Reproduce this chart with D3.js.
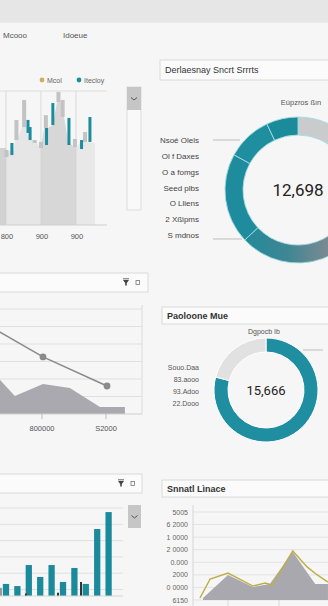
<!DOCTYPE html>
<html><head><meta charset="utf-8">
<script src="https://cdn.jsdelivr.net/npm/d3@7"></script>
<style>
html,body{margin:0;padding:0;background:#f6f6f6;}
svg{display:block;font-family:"Liberation Sans",Arial,sans-serif;}
</style>
</head><body>
<svg id="c" width="328" height="606"></svg>
<script>
// ---------- data ----------
const headerLabels = ["Mcooo", "Idoeue"];
const legendSeries = ["Mcol", "Itecloy"];
const candleTicks = [0, 10, 20];
const candleTickLabels = ["800", "900", "900"];
const fillPeriods = [-1.7,0,0,2.3,2.6,3.4,4.6,5.7,6.0,7.4,8.9,9.4,10.0,10.9,12.0,13.4,14.6,15.7,16.6,17.7,19.2,20.3,21.2,23.2,25.4];
const fillValues  = [57.5,57.5,54.5,56,63.4,65,73,73,68.7,63.4,61.2,58.2,58.2,72.4,72.4,74.6,91.8,91.8,80.6,63.4,58.2,58.2,62,62,61.2];
const fillBands = [-1.7, 0, 10, 20, 25.4];
const grayPeriods = [0.15,3.0,5.2,8.2,10.0,11.4,15.0,16.2,19.7,22.6];
const grayLow     = [50.7,63.4,73,61.2,57.5,72.4,91.8,80.6,58.2,62];
const grayHigh    = [56,78.4,93.3,63.4,62,82,99.3,93.3,64.2,69.4];
const tealPeriods = [1.7,6.3,6.9,11.6,13.4,18.0,21.6,24.0];
const tealLow     = [52.2,68.7,63.4,59.7,74.6,59.7,56.7,62];
const tealHigh    = [61.2,78.4,73.1,72.4,91,79.9,63.4,80.6];

const donut1Title = "Derlaesnay Sncrt Srrrts";
const donut1Caption = "Eúpzros ßın";
const donut1Total = "12,698";
const donut1Values = [26, 37, 20, 10, 7];
const donut1Labels = ["Nsoé Olels","Ol f Daxes","O a fomgs","Seed plbs","O Lliens","2 Xßipms","S mdnos"];

const trendTicks = [1, 2];
const trendTickLabels = ["800000", "S2000"];
const trendLineX = [0, 1, 2];
const trendLineY = [5.38, 3.26, 1.6];
const trendAreaX = [0, 0.33, 0.56, 1.0, 1.42, 1.89, 2.28];
const trendAreaY = [3.2, 1.94, 1.03, 1.71, 1.49, 0.4, 0.4];

const donut2Title = "Paoloone Mue";
const donut2Caption = "Dgpocb Ib";
const donut2Total = "15,666";
const donut2Values = [79, 21];
const donut2Labels = ["Souo.Daa","83.aooo","93.Adoo","22.Dooo"];

const barValues = [0.74,0.61,1.9,1.17,1.9,0.86,1.72,0.74,4.11,5.15];
const barGrid = [0.4,1.4,2.4,3.4,4.4,5.4];
const minorSlots = [-0.44, 1.75, 4.56, 6.58];
const minorValues = [0.5, 0.15, 0.2, 0.86];

const lineTitle = "Snnatl Lìnace";
const lineTickLabels = ["6150","0 0000","2000","0.000","2 0000","1 0000","6 2000","5005"];
const lineX = [0.45,0.65,1.0,1.49,1.73,1.86,2.27,2.55,2.75,2.96];
const lineY = [0.16,1.67,2.15,1.11,1.35,1.19,3.9,2.63,1.99,1.43];
const lineAreaX = [0.51,1.0,1.49,1.82,2.27,2.71,2.96];
const lineAreaY = [0.16,1.99,1.03,1.27,3.82,1.27,1.27];

// ---------- drawing ----------
const svg = d3.select("#c");
const defs = svg.append("defs");
const TEAL = "#1d8c9d";

svg.append("rect").attr("width",328).attr("height",606).attr("fill","#f6f6f6");
svg.append("rect").attr("width",328).attr("height",22).attr("fill","#e6e6e6");
svg.append("rect").attr("y",22).attr("width",328).attr("height",1).attr("fill","#ececec");

svg.selectAll("text.hdr").data(headerLabels).join("text")
  .attr("x",(d,i)=> i===0 ? 3 : 63).attr("y",38)
  .attr("font-size",8).attr("fill","#555").text(d=>d);

function titleBox(x,y,w,h,label,bold){
  svg.append("rect").attr("x",x).attr("y",y).attr("width",w).attr("height",h)
    .attr("fill","#fbfbfb").attr("stroke","#dadada").attr("stroke-width",1);
  if(label) svg.append("text").attr("x",x+5).attr("y",y+h/2+3.3)
    .attr("font-size",9).attr("font-weight",bold?"bold":"normal").attr("fill","#333").text(label);
}
function chevronBox(x,y,w,h){
  svg.append("rect").attr("x",x).attr("y",y).attr("width",w).attr("height",h).attr("fill","#c6c6c6");
  const cx=x+w/2, cy=y+h/2;
  svg.append("path").attr("d",`M${cx-3},${cy-1} L${cx},${cy+1.5} L${cx+3},${cy-1}`)
    .attr("fill","none").attr("stroke","#555").attr("stroke-width",1);
}
function icons(x,y){
  svg.append("path").attr("d",`M${x-3},${y-3} L${x+3},${y-3} L${x+0.8},${y} L${x+0.8},${y+2.5} L${x-0.8},${y+2.5} L${x-0.8},${y} Z`).attr("fill","#444");
  svg.append("path").attr("d",`M${x-3},${y-4.2} L${x+3},${y-4.2}`).attr("stroke","#444").attr("stroke-width",0.8);
  svg.append("rect").attr("x",x+10).attr("y",y-2.5).attr("width",3.5).attr("height",4).attr("fill","none").attr("stroke","#777").attr("stroke-width",0.8);
}

// ---- top-left candle chart ----
const xTL = d3.scaleLinear().domain([-1.7, 28.3]).range([0,105]);
const yTL = d3.scaleLinear().domain([0,100]).range([225,91]);

const legX = [42, 79];
const legCol = ["#c8b35a", TEAL];
legendSeries.forEach((s,i)=>{
  svg.append("circle").attr("cx",legX[i]).attr("cy",80).attr("r",2.4).attr("fill",legCol[i]);
  svg.append("text").attr("x",legX[i]+5).attr("y",82.5).attr("font-size",7).attr("fill","#666").text(s);
});

const bandGrad = defs.append("linearGradient").attr("id","bands")
  .attr("gradientUnits","userSpaceOnUse").attr("x1",0).attr("x2",328).attr("y1",0).attr("y2",0);
const bandCols = ["#d2d2d2","#e6e6e6","#d7d7d7","#e8e8e8"];
for(let k=0;k<fillBands.length-1;k++){
  bandGrad.append("stop").attr("offset",Math.max(0,xTL(fillBands[k]))/328).attr("stop-color",bandCols[k]);
  bandGrad.append("stop").attr("offset",xTL(fillBands[k+1])/328).attr("stop-color",bandCols[k]);
}
const fillArea = d3.area().x(i=>xTL(fillPeriods[i])).y0(yTL(0)).y1(i=>yTL(fillValues[i]));
svg.append("path").attr("d",fillArea(d3.range(fillPeriods.length))).attr("fill","url(#bands)");

svg.append("line").attr("x1",0).attr("x2",107).attr("y1",yTL(100)).attr("y2",yTL(100)).attr("stroke","#dedede");
svg.selectAll("line.vg").data(candleTicks).join("line")
  .attr("x1",d=>xTL(d)).attr("x2",d=>xTL(d)).attr("y1",yTL(100)).attr("y2",yTL(0))
  .attr("stroke","#cfcfcf").attr("stroke-width",0.7);

svg.selectAll("rect.gc").data(d3.range(grayPeriods.length)).join("rect")
  .attr("x",i=>xTL(grayPeriods[i])-2).attr("width",4)
  .attr("y",i=>yTL(grayHigh[i])).attr("height",i=>yTL(grayLow[i])-yTL(grayHigh[i]))
  .attr("fill","#c3c3c3");
svg.selectAll("rect.tc").data(d3.range(tealPeriods.length)).join("rect")
  .attr("x",i=>xTL(tealPeriods[i])-1.5).attr("width",3)
  .attr("y",i=>yTL(tealHigh[i])).attr("height",i=>yTL(tealLow[i])-yTL(tealHigh[i]))
  .attr("fill",TEAL);

svg.append("line").attr("x1",0).attr("x2",107).attr("y1",yTL(0)).attr("y2",yTL(0)).attr("stroke","#cfcfcf");
svg.selectAll("text.tl").data(candleTicks).join("text")
  .attr("x",d=>xTL(d)+1).attr("y",239).attr("text-anchor","middle")
  .attr("font-size",7.5).attr("fill","#555").text((d,i)=>candleTickLabels[i]);

// scroll box
svg.append("rect").attr("x",127).attr("y",87).attr("width",14).attr("height",123)
  .attr("fill","#f9f9f9").attr("stroke","#dcdcdc");
chevronBox(127,87,14,23);

// ---- top-right donut ----
titleBox(160,60,172,20,donut1Title,false);
const c1 = {x:298, y:190};
const g1 = svg.append("g").attr("transform",`translate(${c1.x},${c1.y})`);
const d1grad = defs.append("linearGradient").attr("id","d1grad")
  .attr("gradientUnits","userSpaceOnUse").attr("x1",-60).attr("x2",30).attr("y1",0).attr("y2",0);
d1grad.append("stop").attr("offset",0).attr("stop-color","#1e8a9a");
d1grad.append("stop").attr("offset",0.55).attr("stop-color","#3f8694");
d1grad.append("stop").attr("offset",1).attr("stop-color","#7c8a91");
const d1cols = ["#c9cbcc","url(#d1grad)","#1e8c9c","#1f8fa0","#1b8a9a"];
const pie = d3.pie().sort(null).value(d=>d);
const arc1 = d3.arc().innerRadius(55).outerRadius(73);
g1.selectAll("path").data(pie(donut1Values)).join("path")
  .attr("d",arc1).attr("fill",(d,i)=>d1cols[i]).attr("stroke","#a3dbe1").attr("stroke-width",0.9);
g1.append("text").attr("y",6).attr("text-anchor","middle").attr("font-family","Roboto, Arial, sans-serif")
  .attr("font-size",17).attr("fill","#222").text(donut1Total);
svg.append("text").attr("x",301).attr("y",105).attr("text-anchor","middle").attr("font-size",7.5).attr("fill","#555").text(donut1Caption);
const lab1Y = d3.scaleLinear().domain([0,6]).range([140,235]);
svg.selectAll("text.l1").data(donut1Labels).join("text")
  .attr("x",199).attr("y",(d,i)=>lab1Y(i)+3).attr("text-anchor","end")
  .attr("font-size",8).attr("fill","#444").text(d=>d);
svg.append("line").attr("x1",213).attr("x2",240).attr("y1",140).attr("y2",140).attr("stroke","#bdbdbd");
svg.append("line").attr("x1",213).attr("x2",242).attr("y1",239).attr("y2",239).attr("stroke","#bdbdbd");

// ---- middle-left trend ----
titleBox(-2,273,150,19,null);
icons(126,283);
const xML = d3.scaleLinear().domain([0,2]).range([-21,107]);
const yML = d3.scaleLinear().domain([0,6]).range([414,309]);
svg.selectAll("line.mg").data(d3.range(1,7)).join("line")
  .attr("x1",0).attr("x2",142).attr("y1",d=>yML(d)).attr("y2",d=>yML(d)).attr("stroke","#e0e0e0");
svg.append("line").attr("x1",142).attr("x2",142).attr("y1",305).attr("y2",414).attr("stroke","#dcdcdc");
const mlArea = d3.area().x(i=>xML(trendAreaX[i])).y0(yML(0)).y1(i=>yML(trendAreaY[i]));
svg.append("path").attr("d",mlArea(d3.range(trendAreaX.length))).attr("fill","#a9a9af");
svg.append("line").attr("x1",0).attr("x2",142).attr("y1",yML(0)).attr("y2",yML(0)).attr("stroke","#cfcfcf");
const mlLine = d3.line().x(i=>xML(trendLineX[i])).y(i=>yML(trendLineY[i]));
svg.append("path").attr("d",mlLine(d3.range(trendLineX.length))).attr("fill","none").attr("stroke","#8a8a8a").attr("stroke-width",1.5);
svg.selectAll("circle.mp").data([1,2]).join("circle")
  .attr("cx",i=>xML(trendLineX[i])).attr("cy",i=>yML(trendLineY[i])).attr("r",3.4).attr("fill","#8a8a8a");
svg.selectAll("line.mt").data(trendTicks).join("line")
  .attr("x1",d=>xML(d)-1).attr("x2",d=>xML(d)-1).attr("y1",414).attr("y2",419).attr("stroke","#bbb");
svg.selectAll("text.mtl").data(trendTicks).join("text")
  .attr("x",d=>xML(d)-1).attr("y",431).attr("text-anchor","middle")
  .attr("font-size",7.5).attr("fill","#555").text((d,i)=>trendTickLabels[i]);

// ---- middle-right donut ----
titleBox(162,307,170,17,donut2Title,true);
const g2 = svg.append("g").attr("transform","translate(266,390)");
const arc2 = d3.arc().innerRadius(38).outerRadius(52);
g2.selectAll("path").data(pie(donut2Values)).join("path")
  .attr("d",arc2).attr("fill",(d,i)=>i===0?"#1f8ea0":"#e1e1e1").attr("stroke","#fff").attr("stroke-width",1);
g2.append("text").attr("y",5).attr("text-anchor","middle").attr("font-family","Roboto, Arial, sans-serif")
  .attr("font-size",13).attr("fill","#222").text(donut2Total);
svg.append("text").attr("x",264).attr("y",334).attr("text-anchor","middle").attr("font-size",7).attr("fill","#555").text(donut2Caption);
const lab2Y = d3.scaleLinear().domain([0,3]).range([367,403]);
svg.selectAll("text.l2").data(donut2Labels).join("text")
  .attr("x",199).attr("y",(d,i)=>lab2Y(i)+2.5).attr("text-anchor","end")
  .attr("font-size",7).attr("fill","#555").text(d=>d);
svg.append("line").attr("x1",303).attr("x2",323).attr("y1",350).attr("y2",350).attr("stroke","#bdbdbd");

// ---- bottom-left bars ----
titleBox(-2,474,144,19,null);
icons(121,484);
const xBL = d3.scaleBand().domain(d3.range(barValues.length)).range([0.3,114.3]).paddingInner(0.45).paddingOuter(0.225);
const yBL = d3.scaleLinear().domain([0,5.4]).range([596,508]);
svg.selectAll("line.bg").data(barGrid).join("line")
  .attr("x1",0).attr("x2",123).attr("y1",d=>yBL(d)).attr("y2",d=>yBL(d)).attr("stroke","#e0e0e0");
svg.selectAll("rect.bar").data(barValues).join("rect")
  .attr("x",(d,i)=>xBL(i)).attr("width",xBL.bandwidth())
  .attr("y",d=>yBL(d)).attr("height",d=>yBL(0)-yBL(d)).attr("fill","#1b8b9c");
const slotX = s => xBL(0)+xBL.bandwidth()/2 + s*xBL.step();
svg.selectAll("rect.minor").data(minorValues).join("rect")
  .attr("x",(d,i)=>slotX(minorSlots[i])-1).attr("width",2)
  .attr("y",d=>yBL(d)).attr("height",d=>yBL(0)-yBL(d)).attr("fill",(d,i)=>i===0?"#9a9a9a":"#333");
svg.append("line").attr("x1",0).attr("x2",123).attr("y1",yBL(0)).attr("y2",yBL(0)).attr("stroke","#d5d5d5");
chevronBox(128,505,13,23);

// ---- bottom-right line/area ----
titleBox(162,480,170,17,lineTitle,true);
const xBR = d3.scaleLinear().domain([0,3]).range([177,330]);
const yBR = d3.scaleLinear().domain([0,7]).range([600,512]);
svg.selectAll("line.rg").data(d3.range(8)).join("line")
  .attr("x1",193).attr("x2",328).attr("y1",d=>yBR(d)).attr("y2",d=>yBR(d)).attr("stroke","#e3e3e3");
svg.append("line").attr("x1",193).attr("x2",193).attr("y1",505).attr("y2",606).attr("stroke","#d6d6d6");
svg.selectAll("line.rt").data([1,2]).join("line")
  .attr("x1",d=>xBR(d)).attr("x2",d=>xBR(d)).attr("y1",598).attr("y2",606).attr("stroke","#d6d6d6");
svg.selectAll("text.rl").data(lineTickLabels).join("text")
  .attr("x",188).attr("y",(d,i)=>yBR(i)+2.5).attr("text-anchor","end")
  .attr("font-size",7).attr("fill","#666").text(d=>d);
const brArea = d3.area().x(i=>xBR(lineAreaX[i])).y0(yBR(0)).y1(i=>yBR(lineAreaY[i]));
svg.append("path").attr("d",brArea(d3.range(lineAreaX.length))).attr("fill","#a8a8ae");
const brLine = d3.line().x(i=>xBR(lineX[i])).y(i=>yBR(lineY[i]));
svg.append("path").attr("d",brLine(d3.range(lineX.length))).attr("fill","none").attr("stroke","#bfae48").attr("stroke-width",1.5);
</script>
</body></html>
